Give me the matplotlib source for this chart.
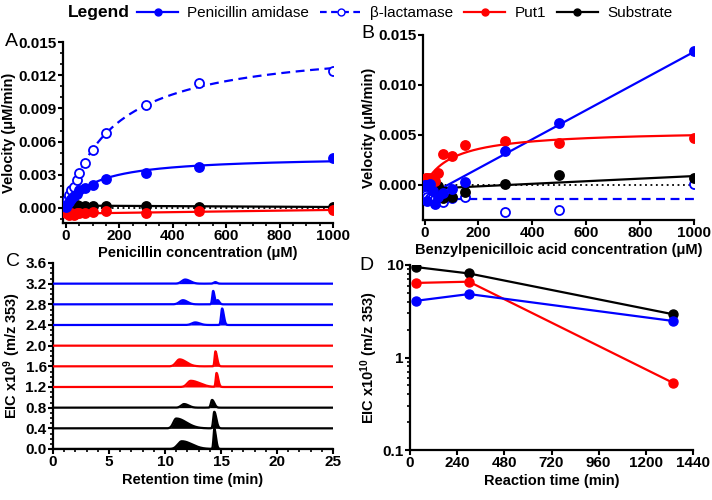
import numpy as np
import matplotlib
matplotlib.use("Agg")
import matplotlib.pyplot as plt
from matplotlib.lines import Line2D
from matplotlib.ticker import MultipleLocator, LogLocator, NullFormatter, FixedLocator, FormatStrFormatter

plt.rcParams["font.family"] = ["Liberation Sans", "DejaVu Sans"]
plt.rcParams["mathtext.fontset"] = "custom"
plt.rcParams["mathtext.rm"] = "Liberation Sans"
plt.rcParams["mathtext.bf"] = "Liberation Sans:bold"
plt.rcParams["mathtext.default"] = "bf"

BLUE = "#0000ff"
RED = "#ff0000"
BLACK = "#000000"

LABEL_SIZE = 10.5
TICK_SIZE = 11

# Panel A: penicillin substrate
conc_a = [0, 5, 10, 20, 30, 40, 50, 70, 100, 150, 300, 500, 1000]
amidase_a = [0.0001, 0.0003, 0.0005, 0.0008, 0.0011, 0.0013, 0.0016, 0.0018,
             0.0021, 0.0026, 0.0032, 0.0037, 0.0045]
lactamase_a = [0.0003, 0.0007, 0.0012, 0.0016, 0.0019, 0.0025, 0.0032, 0.0041,
               0.0052, 0.0068, 0.0093, 0.0113, 0.0124]
put1_a = [-0.0005, -0.0005, -0.0006, -0.0005, -0.0006, -0.0005, -0.0005, -0.0005,
          -0.0004, -0.0003, -0.0005, -0.0003, -0.0002]
substrate_a = [0.0001, 0.0002, 0.0002, 0.0002, 0.0003, 0.0003, 0.0002, 0.0002,
               0.0002, 0.0002, 0.0002, 0.0001, 0.0001]

# Panel B: benzylpenicilloic acid substrate
conc_b = [0, 5, 10, 20, 30, 40, 50, 70, 100, 150, 300, 500, 1000]
amidase_b = [0.0000, 0.0000, -0.0016, 0.0001, -0.0006, -0.0019, -0.0012, -0.0008,
             -0.0004, 0.0003, 0.0034, 0.0062, 0.0134]
lactamase_b = [-0.0008, -0.0010, -0.0012, -0.0013, -0.0012, -0.0014, -0.0015, -0.0017,
               -0.0013, -0.0012, -0.0027, -0.0025, 0.0001]
put1_b = [0.0005, 0.0007, 0.0007, 0.0007, 0.0006, 0.0004, 0.0012, 0.0031,
          0.0029, 0.0040, 0.0044, 0.0042, 0.0047]
substrate_b = [0.0000, 0.0000, 0.0000, 0.0000, -0.0003, -0.0004, -0.0001, -0.0013,
               -0.0012, -0.0007, 0.0001, 0.0010, 0.0007]

# Panel C: chromatogram traces (offset, colour, peaks as centre/height/left width/right width)
trace_offsets = [0.0, 0.4, 0.8, 1.2, 1.6, 2.0, 2.4, 2.8, 3.2]
trace_colors = [BLACK, BLACK, BLACK, RED, RED, RED, BLUE, BLUE, BLUE]
trace_peaks = [
    [(11.5, 0.15, 0.35, 0.9), (14.4, 0.39, 0.07, 0.15)],
    [(11.0, 0.19, 0.25, 0.9), (14.4, 0.32, 0.09, 0.18)],
    [(11.7, 0.07, 0.25, 0.4), (14.2, 0.15, 0.1, 0.2)],
    [(12.3, 0.12, 0.3, 0.8), (14.6, 0.27, 0.07, 0.15)],
    [(11.3, 0.135, 0.3, 0.6), (14.5, 0.29, 0.07, 0.15)],
    [],
    [(12.7, 0.05, 0.3, 0.4), (15.1, 0.32, 0.09, 0.15)],
    [(11.6, 0.08, 0.3, 0.4), (14.3, 0.26, 0.08, 0.12), (14.7, 0.08, 0.1, 0.15)],
    [(11.8, 0.08, 0.3, 0.45), (14.5, 0.03, 0.15, 0.15)],
]

# Panel D: EIC vs reaction time
time_d = [30, 300, 1340]
substrate_d = [9.5, 8.1, 2.93]
put1_d = [6.4, 6.6, 0.53]
amidase_d = [4.1, 4.85, 2.48]


def mm_fit(x, y):
    """Least-squares Michaelis-Menten fit (grid over Km)."""
    x = np.asarray(x, float)
    y = np.asarray(y, float)
    best = None
    for km in np.linspace(5, 1000, 2000):
        f = x / (km + x)
        vmax = np.sum(y * f) / np.sum(f * f)
        sse = np.sum((y - vmax * f) ** 2)
        if best is None or sse < best[0]:
            best = (sse, vmax, km)
    return best[1], best[2]


def style_axes(ax):
    for side in ("top", "right"):
        ax.spines[side].set_visible(False)
    for side in ("left", "bottom"):
        ax.spines[side].set_linewidth(1.6)
    ax.tick_params(which="major", direction="out", length=3.5, width=1.5,
                   labelsize=TICK_SIZE, pad=1)
    ax.tick_params(which="minor", direction="out", length=2.2, width=1.2)
    for lab in ax.get_xticklabels() + ax.get_yticklabels():
        lab.set_fontweight("bold")


def scatter(ax, x, y, color, hollow=False):
    ax.plot(x, y, linestyle="none", marker="o", markersize=6.5,
            markerfacecolor="white" if hollow else color,
            markeredgecolor=color, markeredgewidth=1.3, zorder=4)


fig = plt.figure(figsize=(7.12, 5.0), dpi=100)

# ---------------- Panel A ----------------
ax_a = fig.add_axes([63 / 712, 1 - 223 / 500, 270 / 712, 181 / 500])
xs = np.linspace(0, 1000, 400)
for y, color, hollow, ls in [(amidase_a, BLUE, False, "-"), (lactamase_a, BLUE, True, "--")]:
    vmax, km = mm_fit(conc_a, y)
    ax_a.plot(xs, vmax * xs / (km + xs), color=color, lw=1.6, ls=ls,
              dashes=(4, 2.5) if ls == "--" else (None, None), zorder=3)
for y, color in [(put1_a, RED), (substrate_a, BLACK)]:
    k, b = np.polyfit(conc_a, y, 1)
    ax_a.plot(xs, k * xs + b, color=color, lw=1.6, zorder=3)
ax_a.axhline(0, color=BLACK, lw=1.3, ls=(0, (1, 2)), zorder=2)
scatter(ax_a, conc_a, substrate_a, BLACK)
scatter(ax_a, conc_a, put1_a, RED)
scatter(ax_a, conc_a, lactamase_a, BLUE, hollow=True)
scatter(ax_a, conc_a, amidase_a, BLUE)
ax_a.set_xlim(-11, 1000)
ax_a.set_ylim(-0.00136, 0.015)
ax_a.set_xticks([0, 200, 400, 600, 800, 1000])
ax_a.xaxis.set_minor_locator(MultipleLocator(50))
ax_a.set_yticks([0, 0.003, 0.006, 0.009, 0.012, 0.015])
ax_a.yaxis.set_major_formatter(FormatStrFormatter("%.3f"))
ax_a.yaxis.set_minor_locator(MultipleLocator(0.001))
ax_a.set_xlabel("Penicillin concentration (μM)", fontsize=LABEL_SIZE, fontweight="bold", labelpad=2)
ax_a.set_ylabel("Velocity (μM/min)", fontsize=LABEL_SIZE, fontweight="bold", labelpad=2)
style_axes(ax_a)

# ---------------- Panel B ----------------
ax_b = fig.add_axes([423 / 712, 1 - 220 / 500, 271 / 712, 185 / 500])
k, b = np.polyfit(conc_b, amidase_b, 1)
ax_b.plot(xs, k * xs + b, color=BLUE, lw=1.6, zorder=3)
vmax, km = mm_fit(conc_b, put1_b)
ax_b.plot(xs, vmax * xs / (km + xs), color=RED, lw=1.6, zorder=3)
k, b = np.polyfit(conc_b, substrate_b, 1)
ax_b.plot(xs, k * xs + b, color=BLACK, lw=1.6, zorder=3)
ax_b.plot(xs, np.full_like(xs, np.mean(lactamase_b)), color=BLUE, lw=1.6,
          dashes=(4, 2.5), zorder=3)
ax_b.axhline(0, color=BLACK, lw=1.3, ls=(0, (1, 2)), zorder=2)
scatter(ax_b, conc_b, lactamase_b, BLUE, hollow=True)
scatter(ax_b, conc_b, substrate_b, BLACK)
scatter(ax_b, conc_b, put1_b, RED)
scatter(ax_b, conc_b, amidase_b, BLUE)
ax_b.set_xlim(-6, 1000)
ax_b.set_ylim(-0.0035, 0.015)
ax_b.set_xticks([0, 200, 400, 600, 800, 1000])
ax_b.set_yticks([0, 0.005, 0.010, 0.015])
ax_b.yaxis.set_major_formatter(FormatStrFormatter("%.3f"))
ax_b.set_xlabel("Benzylpenicilloic acid concentration (μM)", fontsize=LABEL_SIZE,
                fontweight="bold", labelpad=2)
ax_b.set_ylabel("Velocity (μM/min)", fontsize=LABEL_SIZE, fontweight="bold", labelpad=2)
style_axes(ax_b)

# ---------------- Panel C ----------------
ax_c = fig.add_axes([53 / 712, 1 - 449 / 500, 280 / 712, 186 / 500])
rt = np.linspace(0, 25, 2001)
for offset, color, peaks in zip(trace_offsets, trace_colors, trace_peaks):
    signal = np.zeros_like(rt)
    for c, h, sl, sr in peaks:
        s = np.where(rt < c, sl, sr)
        signal += h * np.exp(-0.5 * ((rt - c) / s) ** 2)
    ax_c.fill_between(rt, offset, offset + signal, color=color, lw=0, zorder=2)
    ax_c.plot(rt, offset + signal, color=color, lw=1.6, zorder=3)
ax_c.set_xlim(0, 25)
ax_c.set_ylim(0, 3.6)
ax_c.set_xticks([0, 5, 10, 15, 20, 25])
ax_c.xaxis.set_minor_locator(MultipleLocator(1))
ax_c.set_yticks(np.round(np.arange(0, 3.61, 0.4), 1))
ax_c.yaxis.set_major_formatter(FormatStrFormatter("%.1f"))
ax_c.yaxis.set_minor_locator(MultipleLocator(0.1))
ax_c.set_xlabel("Retention time (min)", fontsize=LABEL_SIZE, fontweight="bold", labelpad=3)
ax_c.set_ylabel(r"EIC x10$^{9}$ (m/z 353)", fontsize=LABEL_SIZE, fontweight="bold", labelpad=2)
style_axes(ax_c)

# ---------------- Panel D ----------------
ax_d = fig.add_axes([410 / 712, 1 - 450 / 500, 283 / 712, 185 / 500])
for y, color in [(substrate_d, BLACK), (put1_d, RED), (amidase_d, BLUE)]:
    ax_d.plot(time_d, y, color=color, lw=1.6, marker="o", markersize=6.5, zorder=3)
ax_d.set_yscale("log")
ax_d.set_xlim(0, 1440)
ax_d.set_ylim(0.1, 10)
ax_d.set_xticks([0, 240, 480, 720, 960, 1200, 1440])
ax_d.yaxis.set_major_locator(FixedLocator([0.1, 1, 10]))
ax_d.set_yticklabels(["0.1", "1", "10"])
ax_d.yaxis.set_minor_locator(LogLocator(base=10, subs=np.arange(2, 10)))
ax_d.yaxis.set_minor_formatter(NullFormatter())
ax_d.set_xlabel("Reaction time (min)", fontsize=LABEL_SIZE, fontweight="bold", labelpad=3)
ax_d.set_ylabel(r"EIC x10$^{10}$ (m/z 353)", fontsize=LABEL_SIZE, fontweight="bold", labelpad=2)
style_axes(ax_d)

# Panel letters
for x, y, letter in [(5, 41, "A"), (361, 33, "B"), (6, 262, "C"), (359, 266, "D")]:
    fig.text(x / 712, 1 - y / 500, letter, fontsize=14, ha="left", va="center")

# Legend across the top
handles = [
    Line2D([0], [0], color=BLUE, lw=1.6, marker="o", markersize=5),
    Line2D([0], [0], color=BLUE, lw=1.6, dashes=(3, 2), marker="o", markersize=5,
           markerfacecolor="white"),
    Line2D([0], [0], color=RED, lw=1.6, marker="o", markersize=5),
    Line2D([0], [0], color=BLACK, lw=1.6, marker="o", markersize=5),
]
labels = ["Penicillin amidase", "β-lactamase", "Put1", "Substrate"]
fig.text(68 / 712, 1 - 13 / 500, "Legend", fontsize=12.5, fontweight="bold",
         ha="left", va="center")
fig.legend(handles, labels, loc="center left", bbox_to_anchor=(137 / 712, 1 - 13 / 500),
           ncol=4, frameon=False, fontsize=11, handlelength=2.7, handletextpad=0.6,
           columnspacing=0.7, borderaxespad=0, borderpad=0)

fig.savefig("out.png", dpi=100)
